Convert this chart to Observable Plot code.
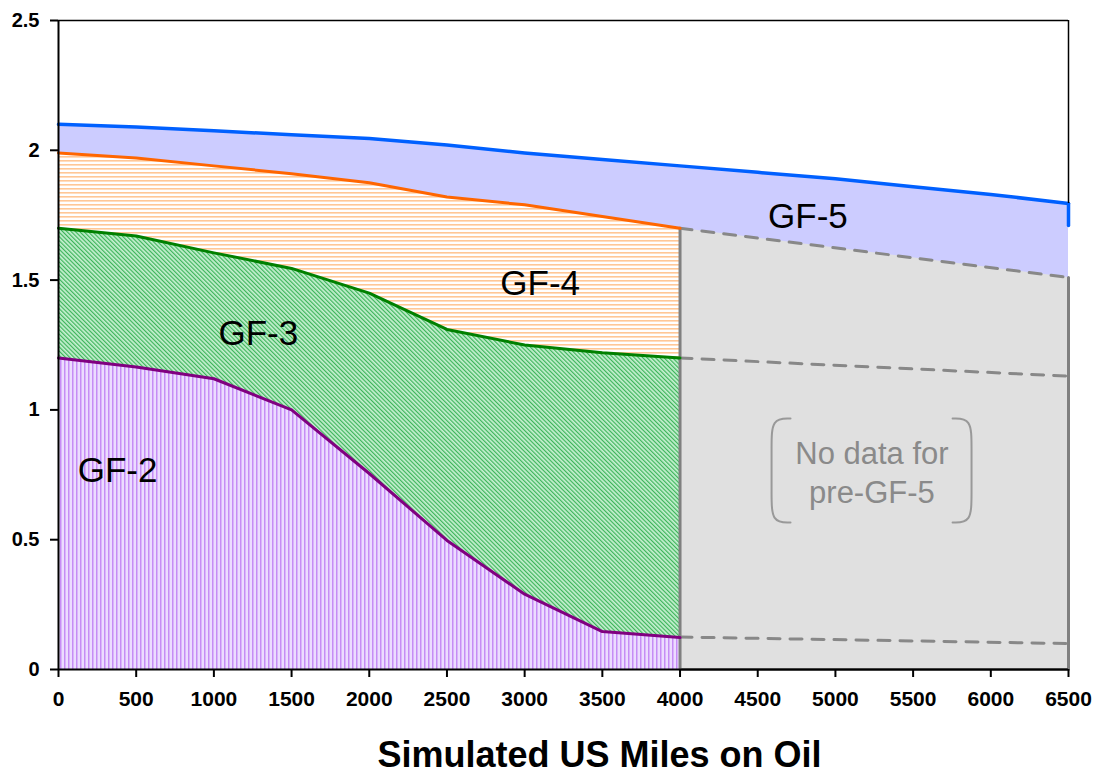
<!DOCTYPE html>
<html>
<head>
<meta charset="utf-8">
<script src="https://cdn.jsdelivr.net/npm/d3@7"></script>
<script src="https://cdn.jsdelivr.net/npm/@observablehq/plot@0.6"></script>
<style>
  html, body { margin: 0; padding: 0; background: #fff; }
  #chart { width: 1102px; height: 773px; }
</style>
</head>
<body>
<div id="chart"></div>
<script>
// ---- data ----
const miles = [0, 500, 1000, 1500, 2000, 2500, 3000, 3500, 4000, 4500, 5000, 5500, 6000, 6500];
const gf5Top = [2.10, 2.09, 2.075, 2.06, 2.045, 2.02, 1.99, 1.965, 1.94, 1.915, 1.89, 1.86, 1.83, 1.795];
const gf5EdgeDrop = [1.795, 1.71];

const milesMeasured = [0, 500, 1000, 1500, 2000, 2500, 3000, 3500, 4000];
const gf4Top = [1.99, 1.97, 1.94, 1.91, 1.875, 1.82, 1.79, 1.745, 1.70];
const gf3Top = [1.70, 1.67, 1.605, 1.545, 1.45, 1.31, 1.25, 1.22, 1.20];
const gf2Top = [1.20, 1.165, 1.12, 1.00, 0.755, 0.497, 0.29, 0.146, 0.123];

const noDataMiles = [4000, 6500];
const noDataTop = [1.70, 1.51];
const projGF3 = [1.20, 1.13];
const projGF2 = [0.125, 0.10];

const xTicks = [0, 500, 1000, 1500, 2000, 2500, 3000, 3500, 4000, 4500, 5000, 5500, 6000, 6500];
const yTicks = [0, 0.5, 1, 1.5, 2, 2.5];

const bandLabels = ["GF-2", "GF-3", "GF-4", "GF-5"];
const bandLabelX = [380, 1286, 3100, 4823];
const bandLabelY = [0.767, 1.294, 1.487, 1.745];

const noDataText = "No data for\npre-GF-5";
const xTitle = "Simulated US Miles on Oil";

// bracket shapes around the note (data coords)
const bracketLeftX = [4711, 4589, 4589, 4589, 4589, 4711];
const bracketRightX = [5754, 5876, 5876, 5876, 5876, 5754];
const bracketY = [0.967, 0.967, 0.86, 0.675, 0.566, 0.566];

// ---- tables ----
const full = miles.map((m, i) => ({x: m, top: gf5Top[i]}));
const measured = milesMeasured.map((m, i) => ({x: m, gf4: gf4Top[i], gf3: gf3Top[i], gf2: gf2Top[i]}));
const noData = noDataMiles.map((m, i) => ({x: m, top: noDataTop[i], p3: projGF3[i], p2: projGF2[i]}));
const noDataOutline = [
  {x: noDataMiles[0], y: noDataTop[0]},
  {x: noDataMiles[0], y: 0},
  {x: noDataMiles[1], y: 0},
  {x: noDataMiles[1], y: noDataTop[1]}
];
const edge = gf5EdgeDrop.map(v => ({x: miles[miles.length - 1], y: v}));
const labels = bandLabels.map((t, i) => ({t, x: bandLabelX[i], y: bandLabelY[i]}));
const bl = bracketY.map((y, i) => ({x: bracketLeftX[i], y}));
const br = bracketY.map((y, i) => ({x: bracketRightX[i], y}));

const font = "'Liberation Sans', Arial, Helvetica, sans-serif";

const chart = Plot.plot({
  width: 1102,
  height: 773,
  marginLeft: 58,
  marginRight: 34,
  marginTop: 20,
  marginBottom: 104,
  style: {fontFamily: font, background: "#fff", color: "#000", overflow: "visible"},
  x: {domain: [0, 6500]},
  y: {domain: [0, 2.5]},
  marks: [
    // GF-5 band (blue) – drawn full, covered below
    Plot.areaY(full, {x: "x", y1: 0, y2: "top", fill: "#ccccff"}),
    // no-data region
    Plot.areaY(noData, {x: "x", y1: 0, y2: "top", fill: "#e0e0e0"}),
    // hatched bands
    Plot.areaY(measured, {x: "x", y1: 0, y2: "gf4", fill: "url(#patOrange)"}),
    Plot.areaY(measured, {x: "x", y1: 0, y2: "gf3", fill: "url(#patGreen)"}),
    Plot.areaY(measured, {x: "x", y1: 0, y2: "gf2", fill: "url(#patPurple)"}),
    // no-data outline & projections
    Plot.line(noDataOutline, {x: "x", y: "y", stroke: "#808080", strokeWidth: 3}),
    Plot.line(noData, {x: "x", y: "top", stroke: "#888", strokeWidth: 3, strokeDasharray: "12,10"}),
    Plot.line(noData, {x: "x", y: "p3", stroke: "#888", strokeWidth: 3, strokeDasharray: "12,10"}),
    Plot.line(noData, {x: "x", y: "p2", stroke: "#888", strokeWidth: 3, strokeDasharray: "12,10"}),
    // boundary lines
    Plot.line(measured, {x: "x", y: "gf2", stroke: "#800080", strokeWidth: 3}),
    Plot.line(measured, {x: "x", y: "gf3", stroke: "#008000", strokeWidth: 3}),
    Plot.line(measured, {x: "x", y: "gf4", stroke: "#ff6600", strokeWidth: 3}),
    Plot.line(full, {x: "x", y: "top", stroke: "#0060ff", strokeWidth: 3.5}),
    Plot.line(edge, {x: "x", y: "y", stroke: "#0060ff", strokeWidth: 3.5}),
    // frame
    Plot.ruleY([2.5], {stroke: "#000", strokeWidth: 1.5}),
    Plot.ruleX([6500], {y1: 2.5, y2: gf5EdgeDrop[0], stroke: "#000", strokeWidth: 1.5}),
    Plot.ruleX([0], {stroke: "#000", strokeWidth: 2}),
    Plot.ruleY([0], {stroke: "#000", strokeWidth: 2}),
    // axes
    Plot.axisX({ticks: xTicks, tickSize: 8, tickPadding: 14, tickFormat: d => String(d),
      fontSize: 21, fontWeight: "bold", stroke: "#000", strokeWidth: 2, label: null}),
    Plot.axisY({ticks: yTicks, tickSize: 8, tickPadding: 11, tickFormat: d => String(d),
      fontSize: 20, fontWeight: "bold", stroke: "#000", strokeWidth: 2, label: null}),
    // labels
    Plot.text(labels, {x: "x", y: "y", text: "t", fontSize: 35, fill: "#000"}),
    Plot.text([noDataText], {x: 5235, y: 0.765, text: d => d, fontSize: 31, fill: "#8a8a8a", lineHeight: 1.25}),
    Plot.line(bl, {x: "x", y: "y", curve: "basis", stroke: "#999", strokeWidth: 2}),
    Plot.line(br, {x: "x", y: "y", curve: "basis", stroke: "#999", strokeWidth: 2}),
    Plot.text([xTitle], {frameAnchor: "bottom", lineAnchor: "middle", dx: 36, dy: 86,
      fontSize: 36, fontWeight: "bold", fill: "#000"})
  ]
});

// hatch patterns
const svg = d3.select(chart);
const defs = svg.insert("defs", ":first-child");
const po = defs.append("pattern").attr("id", "patOrange").attr("patternUnits", "userSpaceOnUse")
  .attr("width", 4).attr("height", 4);
po.append("rect").attr("width", 4).attr("height", 4).attr("fill", "#ffffff");
po.append("rect").attr("width", 4).attr("height", 1.6).attr("fill", "#ffc796");

const pg = defs.append("pattern").attr("id", "patGreen").attr("patternUnits", "userSpaceOnUse")
  .attr("width", 3).attr("height", 3).attr("patternTransform", "rotate(-45)");
pg.append("rect").attr("width", 3).attr("height", 3).attr("fill", "#c6f0d1");
pg.append("rect").attr("width", 1.2).attr("height", 3).attr("fill", "#3db45a");

const pp = defs.append("pattern").attr("id", "patPurple").attr("patternUnits", "userSpaceOnUse")
  .attr("width", 4).attr("height", 4);
pp.append("rect").attr("width", 4).attr("height", 4).attr("fill", "#ecdcff");
pp.append("rect").attr("width", 1.5).attr("height", 4).attr("fill", "#c68cf5");

document.getElementById("chart").appendChild(chart);
</script>
</body>
</html>
